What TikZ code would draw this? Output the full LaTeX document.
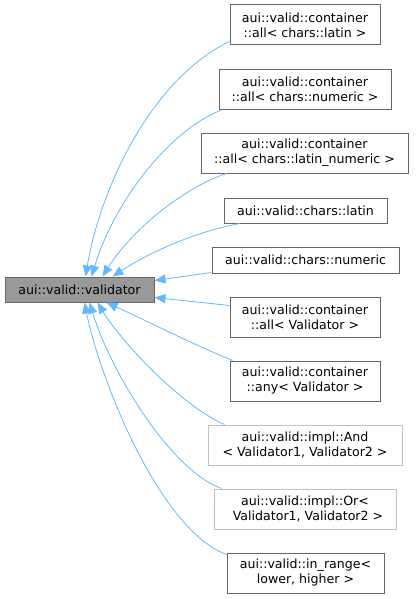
\documentclass[tikz,border=0pt]{standalone}
\usepackage{fontspec}
\setmainfont{DejaVu Sans}
\usetikzlibrary{arrows.meta}
\definecolor{edgeblue}{HTML}{63B8FF}
\definecolor{basegray}{HTML}{999999}
\definecolor{framegray}{HTML}{666666}
\definecolor{palegray}{HTML}{BFBFBF}
\begin{document}
\begin{tikzpicture}[x=1pt,y=-1pt,
	cls/.style={draw=framegray,line width=1pt,fill=white,align=center,inner sep=0pt,font=\fontsize{12.6}{15}\selectfont},
	undoc/.style={cls,draw=palegray},
	inh/.style={draw=edgeblue,line width=0.8pt,-{Triangle[length=11pt,width=9pt,fill=edgeblue]}}]
	\useasboundingbox (0,0) rectangle (415,599);
	\node[cls,fill=basegray,minimum width=149pt,minimum height=25pt] (base) at (79.5,289.5) {aui::valid::validator};
	\node[cls,minimum width=150pt,minimum height=40pt] (latin) at (305,25) {aui::valid::container\\::all< chars::latin >};
	\node[cls,minimum width=172pt,minimum height=40pt] (numeric) at (305,89.5) {aui::valid::container\\::all< chars::numeric >};
	\node[cls,minimum width=207pt,minimum height=40pt] (latinnum) at (304.5,153) {aui::valid::container\\::all< chars::latin\_numeric >};
	\node[cls,minimum width=163pt,minimum height=25pt] (clatin) at (305.5,210.5) {aui::valid::chars::latin};
	\node[cls,minimum width=187pt,minimum height=26pt] (cnumeric) at (305.5,260) {aui::valid::chars::numeric};
	\node[cls,minimum width=150pt,minimum height=40pt] (allv) at (305,317) {aui::valid::container\\::all< Validator >};
	\node[cls,minimum width=150pt,minimum height=40pt] (anyv) at (305,381) {aui::valid::container\\::any< Validator >};
	\node[undoc,minimum width=194pt,minimum height=40pt] (andv) at (305,445) {aui::valid::impl::And\\< Validator1, Validator2 >};
	\node[undoc,minimum width=182pt,minimum height=40pt] (orv) at (305,509) {aui::valid::impl::Or<\\\hspace{6pt}Validator1, Validator2 >};
	\node[cls,minimum width=157pt,minimum height=40pt] (range) at (305.5,573) {aui::valid::in\_range<\\ lower, higher >};
	% edges to the base class
	\draw[inh] ([yshift=4pt]latin.south west) .. controls (150,80) and (100,190) .. ([xshift=81pt]base.north west);
	\draw[inh] ([xshift=3pt]numeric.south west) .. controls (170,130) and (115,200) .. ([xshift=87pt]base.north west);
	\draw[inh] ([xshift=26pt]latinnum.south west) .. controls (190,185) and (135,225) .. ([xshift=98pt]base.north west);
	\draw[inh] ([xshift=16pt]clatin.south west) .. controls (195,232) and (150,252) .. ([xshift=108pt]base.north west);
	\draw[inh] ([yshift=1pt]cnumeric.south west) -- ([yshift=9pt]base.east);
	\draw[inh] ([yshift=-9pt]allv.north west) -- ([yshift=-8pt]base.east);
	\draw[inh] ([xshift=3pt]anyv.north west) .. controls (190,343) and (145,320) .. ([xshift=102pt]base.south west);
	\draw[inh] ([xshift=17pt]andv.north west) .. controls (180,405) and (120,340) .. ([xshift=93pt]base.south west);
	\draw[inh] ([xshift=8pt]orv.north west) .. controls (170,470) and (110,370) .. ([xshift=85pt]base.south west);
	\draw[inh] ([yshift=-2pt]range.north west) .. controls (160,530) and (100,380) .. ([xshift=80pt]base.south west);
\end{tikzpicture}
\end{document}
